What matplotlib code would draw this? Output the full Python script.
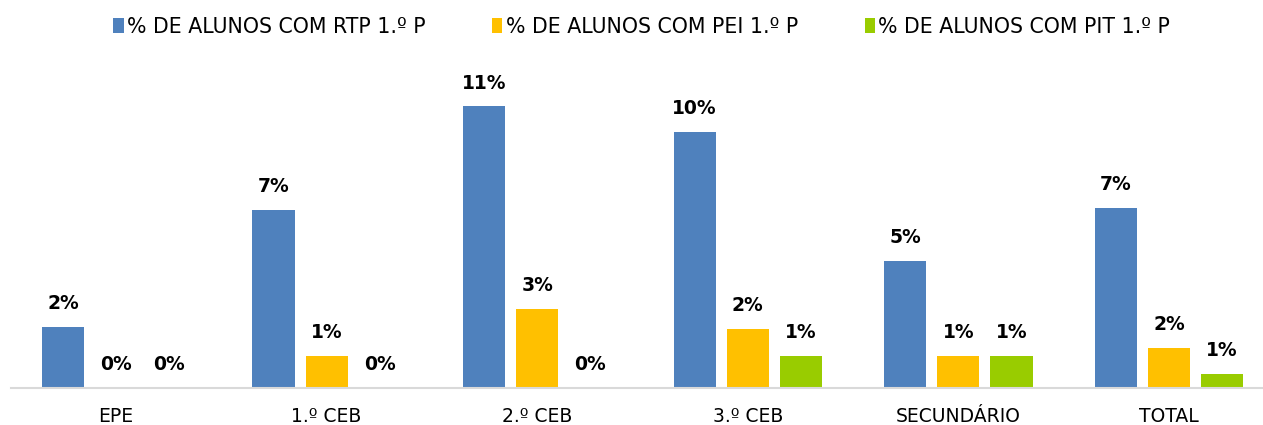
import matplotlib
matplotlib.use("Agg")
import matplotlib.pyplot as plt
from matplotlib.patches import Patch
import numpy as np

categories = ["EPE", "1.º CEB", "2.º CEB", "3.º CEB", "SECUNDÁRIO", "TOTAL"]
series_names = [
    "% DE ALUNOS COM RTP 1.º P",
    "% DE ALUNOS COM PEI 1.º P",
    "% DE ALUNOS COM PIT 1.º P",
]
rtp = [2.4, 6.95, 11.0, 10.0, 4.95, 7.05]
pei = [0.0, 1.25, 3.1, 2.3, 1.25, 1.55]
pit = [0.0, 0.0, 0.0, 1.25, 1.25, 0.55]
colors = ["#4F81BD", "#FFC000", "#99CC00"]

plt.rcParams["font.family"] = ["DejaVu Sans"]

W, H = 1263, 425
fig = plt.figure(figsize=(W / 100, H / 100), dpi=100)

# Plot area: six category slots of ~210.6 px, baseline at y=388 px
slot = 210.6
left_px = 116 - slot / 2
base_px = 388
px_per_unit = 25.6
ymax = 12.0
ax = fig.add_axes([left_px / W, (H - base_px) / H,
                   slot * 6 / W, ymax * px_per_unit / H])

x = np.arange(len(categories))
width = 0.2
step = 0.252
for i, (vals, name, c) in enumerate(zip([rtp, pei, pit], series_names, colors)):
    pos = x + (i - 1) * step
    bars = ax.bar(pos, vals, width=width, color=c, label=name, zorder=2)
    for b, v in zip(bars, vals):
        ax.annotate(f"{v:.0f}%", (b.get_x() + b.get_width() / 2, v),
                    xytext=(0, 10), textcoords="offset points",
                    ha="center", va="bottom", fontsize=13.5,
                    fontweight="bold", color="#000000")

ax.set_xlim(-0.5, len(categories) - 0.5)
ax.set_ylim(0, ymax)
ax.set_xticks(x)
ax.set_xticklabels(categories, fontsize=13.5, color="#000000")
ax.tick_params(axis="x", length=0, pad=14)
ax.set_yticks([])
for s in ["top", "right", "left"]:
    ax.spines[s].set_visible(False)
ax.spines["bottom"].set_color("#D9D9D9")
ax.spines["bottom"].set_linewidth(1.5)

handles = [Patch(facecolor=c, edgecolor="none") for c in colors]
fig.legend(handles, series_names, loc="center", bbox_to_anchor=(0.508, 1 - 27 / H),
           ncol=3, frameon=False, fontsize=14.8, handlelength=0.5,
           handleheight=0.75, handletextpad=0.15, columnspacing=3.25)

fig.savefig("out.png", dpi=100)
